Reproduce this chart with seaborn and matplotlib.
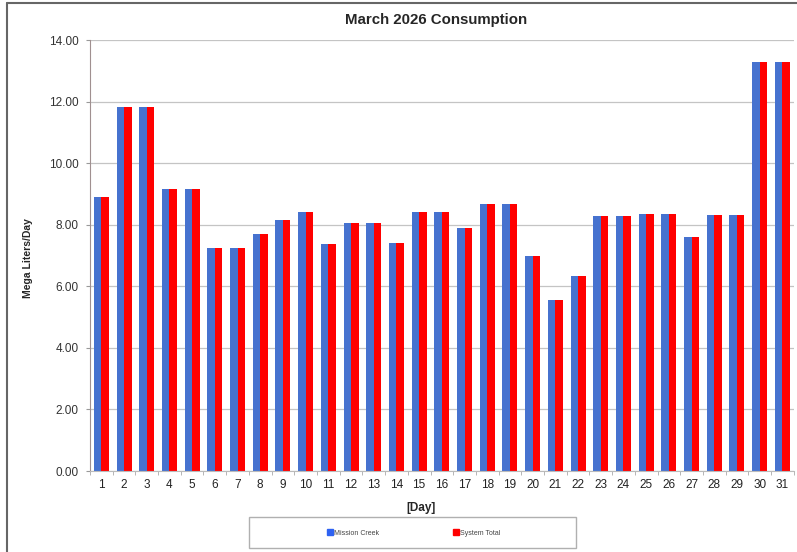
import numpy as np
import pandas as pd
import seaborn as sns
import matplotlib.pyplot as plt
from matplotlib.lines import Line2D
from matplotlib.patches import Rectangle, Patch
from matplotlib.ticker import FormatStrFormatter, FixedLocator

# ------------------------------- DATA --------------------------------------
days = [str(d) for d in range(1, 32)]
mission_creek = [8.90, 11.81, 11.81, 9.16, 9.16, 7.24, 7.23, 7.70, 8.16, 8.41,
                 7.39, 8.06, 8.06, 7.42, 8.41, 8.41, 7.88, 8.66, 8.66, 7.00,
                 5.56, 6.33, 8.28, 8.28, 8.36, 8.36, 7.60, 8.32, 8.32, 13.29,
                 13.29]
system_total = list(mission_creek)
series_names = ["Mission Creek", "System Total"]
series_colors = ["#4672cf", "#ff0000"]

df = pd.DataFrame({
    "day": days * 2,
    "series": [series_names[0]] * len(days) + [series_names[1]] * len(days),
    "value": mission_creek + system_total,
})

# ------------------------------- PLOT --------------------------------------
sns.set_style("white")
plt.rcParams['font.family'] = ['Liberation Sans', 'DejaVu Sans']

fig = plt.figure(figsize=(7.97, 5.52), dpi=100)
ax = fig.add_axes([0.1129, 0.1467, 0.8830, 0.7808])

sns.barplot(data=df, x="day", y="value", hue="series", palette=series_colors,
            width=0.66, saturation=1, linewidth=0, ax=ax, legend=False)

ax.set_xlim(-0.5, 30.5)
ax.set_ylim(0, 14)
ax.set_yticks(np.arange(0, 14.01, 2))
ax.yaxis.set_major_formatter(FormatStrFormatter('%.2f'))
ax.yaxis.grid(True, color="#c4c4c4", linewidth=0.9)
ax.set_axisbelow(True)

ax.xaxis.set_minor_locator(FixedLocator(np.arange(-0.5, 31, 1)))
ax.tick_params(axis="x", which="major", length=0, labelsize=8.5,
               labelcolor="#222222", pad=6)
ax.tick_params(axis="x", which="minor", length=3, color="#aaaaaa",
               direction="out", bottom=True)
ax.tick_params(axis="y", length=3, color="#999999", labelsize=8.5,
               labelcolor="#333333", left=True, pad=5)

for s in ["top", "right"]:
    ax.spines[s].set_visible(False)
ax.spines["left"].set_color("#a09090")
ax.spines["bottom"].set_color("#bbbbbb")
ax.set_xlabel("")
ax.set_ylabel("")

fig.text(436 / 797, 1 - 20 / 552, "March 2026 Consumption", ha="center",
         va="center", fontsize=10.8, fontweight="bold")
fig.text(28 / 797, 1 - 258 / 552, "Mega Liters/Day", ha="center",
         va="center", rotation=90, fontsize=7.5, fontweight="bold")
fig.text(421 / 797, 1 - 508 / 552, "[Day]", ha="center", va="center",
         fontsize=8.5, fontweight="bold")

# legend box
fig.patches.append(Rectangle((249 / 797, 1 - 548 / 552), 327 / 797, 31 / 552,
                             transform=fig.transFigure, fill=False,
                             edgecolor="#b0b0b0", linewidth=1.0))
handles = [Patch(facecolor=c, edgecolor=c) for c in ["#2e62f2", "#ff0000"]]
fig.legend(handles, series_names, loc="center",
           bbox_to_anchor=(414 / 797, 1 - 533 / 552), ncol=2, frameon=False,
           fontsize=5, handlelength=0.8, handleheight=0.8,
           handletextpad=0.2, columnspacing=10.7, labelcolor="#444444")

# outer frame lines
fig.add_artist(Line2D([7 / 797, 1], [1 - 3 / 552, 1 - 3 / 552],
                      transform=fig.transFigure, color="#666666", lw=1.5))
fig.add_artist(Line2D([7 / 797, 7 / 797], [0, 1 - 3 / 552],
                      transform=fig.transFigure, color="#666666", lw=1.5))

fig.savefig("out.png", dpi=100)
